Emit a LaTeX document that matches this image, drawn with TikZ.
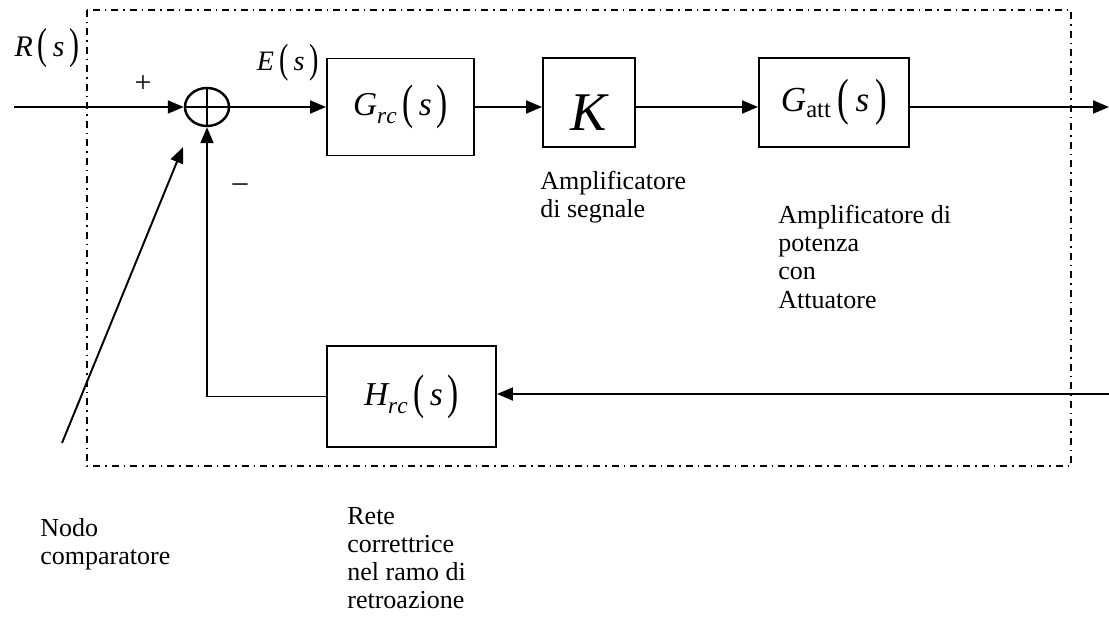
\documentclass[tikz,border=0pt]{standalone}
\usepackage{amsmath}
\usepackage{graphicx}
\usepackage{fontspec}
\setmainfont{Liberation Serif}
\usepackage{tikz}
\usetikzlibrary{positioning, shapes, arrows.meta, calc}
\newcommand{\lpr}{\raisebox{-0.08em}{\scalebox{1}[1.45]{(}}}
\newcommand{\rpr}{\raisebox{-0.08em}{\scalebox{1}[1.45]{)}}}

\begin{document}
\begin{tikzpicture}[
          blk/.style={draw, rectangle, line width=1.1pt, inner sep=0pt, font=\fontsize{#1}{#1}\selectfont},
          sig/.style={-{Triangle[length=3.2mm, width=2.6mm]}, line width=1.1pt},
          lbl/.style={font=\fontsize{14.8}{16}\selectfont, align=left, anchor=north west, inner sep=0pt},
          dashdot/.style={line width=0.9pt, dash pattern=on 1.4mm off 1mm on 0.3mm off 1mm},
        ]
        \useasboundingbox (0,0) rectangle (22.18,-12.42);
        \draw[dashdot] (1.74,-0.2) rectangle (21.42,-9.32);
        \node[draw, ellipse, line width=1.4pt, minimum width=0.88cm, minimum height=0.76cm, inner sep=0pt] (sum) at (4.14,-2.14) {};
        \draw[line width=1.4pt] (sum.west) -- (sum.east) (sum.north) -- (sum.south);
        \node[blk=19, minimum width=2.94cm, minimum height=1.94cm] (grc) at (8.01,-2.14) {$\mathit{G}_{\raisebox{-0.1em}{$\scriptstyle\mathit{rc}$}}\,\lpr\,\mathit{s}\,\rpr$};
        \node[blk=31, minimum width=1.84cm, minimum height=1.78cm] (k) at (11.78,-2.05) {\raisebox{-0.2cm}[\height][\depth]{$\mathit{K}$}};
        \node[blk=20, minimum width=3.0cm, minimum height=1.78cm] (gatt) at (16.68,-2.05) {$\mathit{G}_{\mathrm{att}}\,\lpr\,\mathit{s}\,\rpr$};
        \node[blk=19, minimum width=3.38cm, minimum height=2.02cm] (hrc) at (8.23,-7.93) {$\mathit{H}_{\raisebox{-0.1em}{$\scriptstyle\mathit{rc}$}}\,\lpr\,\mathit{s}\,\rpr$};
        \coordinate (rin) at (0.28,-2.14);
        \coordinate (cout) at (22.18,-2.14);
        \coordinate (fbin) at (22.18,-7.88);
        \coordinate (ntail) at (1.24,-8.86);
        \coordinate (ntip) at (3.66,-2.94);
        \draw[sig] (rin) -- (sum.west);
        \draw[sig] (sum.east) -- (grc.west);
        \draw[sig] (grc.east) -- (grc.east -| k.west);
        \draw[sig] (k.east |- sum) -- (gatt.west |- sum);
        \draw[sig] (gatt.east |- sum) -- (cout);
        \draw[sig] (fbin) -- (fbin -| hrc.east);
        \draw[sig] (hrc.west) -- (hrc.west -| sum) -- (sum.south);
        \draw[sig] (ntail) -- (ntip);
        \node[font=\fontsize{17}{17}\selectfont] (rlab) at (0.94,-0.96) {$\mathit{R}\,\lpr\,\mathit{s}\,\rpr$};
        \node[font=\fontsize{16}{16}\selectfont] (elab) at (5.76,-1.26) {$\mathit{E}\,\lpr\,\mathit{s}\,\rpr$};
        \node[font=\fontsize{17}{17}\selectfont] (plus) at (2.86,-1.68) {+};
        \node[font=\fontsize{17}{17}\selectfont] (minus) at (4.8,-3.76) {--};
        % text under the blocks
        \node[lbl] (amps) at (10.8,-3.42) {Amplificatore\\di segnale};
        \node[lbl] (ampp) at (15.56,-4.1) {Amplificatore di\\potenza\\con\\Attuatore};
        \node[lbl] (rete) at (6.94,-10.14) {Rete\\correttrice\\nel ramo di\\retroazione};
        \node[lbl] (nodo) at (0.8,-10.36) {Nodo\\comparatore};
        \end{tikzpicture}
\end{document}
